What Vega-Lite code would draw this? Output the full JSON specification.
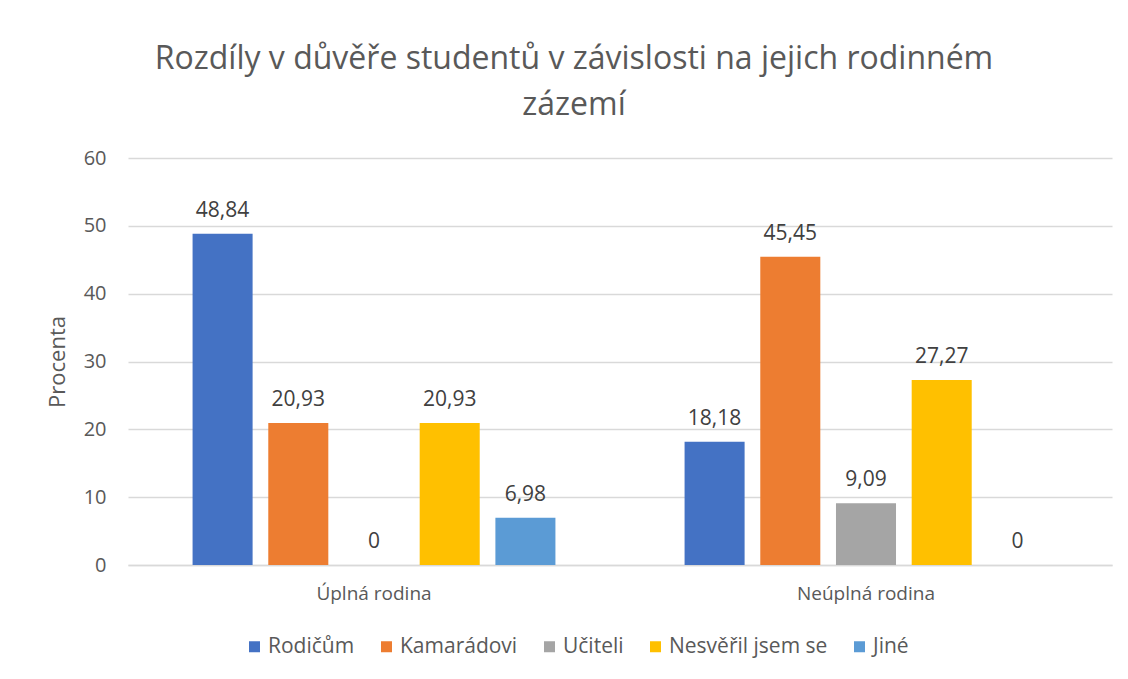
{
  "$schema": "https://vega.github.io/schema/vega-lite/v6.json",
  "width": 984,
  "height": 407,
  "autosize": "none",
  "padding": {"left": 128, "top": 158, "right": 16, "bottom": 114},
  "background": "white",
  "title": {
    "text": ["Rozdíly v důvěře studentů v závislosti na jejich rodinném", "zázemí"],
    "font": "Open Sans",
    "fontSize": 32,
    "fontWeight": "normal",
    "color": "#595959",
    "anchor": "middle",
    "dx": -46,
    "offset": 26,
    "lineHeight": 46
  },
  "data": {
    "values": [
      {"group": "Úplná rodina", "cat": "Rodičům", "value": 48.84},
      {"group": "Úplná rodina", "cat": "Kamarádovi", "value": 20.93},
      {"group": "Úplná rodina", "cat": "Učiteli", "value": 0},
      {"group": "Úplná rodina", "cat": "Nesvěřil jsem se", "value": 20.93},
      {"group": "Úplná rodina", "cat": "Jiné", "value": 6.98},
      {"group": "Neúplná rodina", "cat": "Rodičům", "value": 18.18},
      {"group": "Neúplná rodina", "cat": "Kamarádovi", "value": 45.45},
      {"group": "Neúplná rodina", "cat": "Učiteli", "value": 9.09},
      {"group": "Neúplná rodina", "cat": "Nesvěřil jsem se", "value": 27.27},
      {"group": "Neúplná rodina", "cat": "Jiné", "value": 0}
    ]
  },
  "encoding": {
    "x": {
      "field": "group",
      "type": "nominal",
      "sort": ["Úplná rodina", "Neúplná rodina"],
      "scale": {"paddingInner": 0, "paddingOuter": 0},
      "axis": {
        "title": null,
        "labelAngle": 0,
        "labelFont": "Open Sans",
        "labelFontSize": 19,
        "labelColor": "#595959",
        "labelPadding": 19,
        "ticks": false,
        "domainColor": "#d9d9d9",
        "domainWidth": 1.3
      }
    },
    "xOffset": {
      "field": "cat",
      "type": "nominal",
      "sort": ["Rodičům", "Kamarádovi", "Učiteli", "Nesvěřil jsem se", "Jiné"],
      "scale": {"paddingInner": 0.207, "paddingOuter": 0.853}
    },
    "y": {
      "field": "value",
      "type": "quantitative",
      "scale": {"domain": [0, 60]},
      "axis": {
        "title": "Procenta",
        "titleFont": "Open Sans",
        "titleFontSize": 22,
        "titleFontWeight": "normal",
        "titleColor": "#595959",
        "titlePadding": 14,
        "values": [0, 10, 20, 30, 40, 50, 60],
        "labelFont": "Open Sans",
        "labelFontSize": 20,
        "labelColor": "#595959",
        "labelPadding": 22,
        "ticks": false,
        "domain": false,
        "gridColor": "#d9d9d9",
        "gridWidth": 1.3
      }
    }
  },
  "layer": [
    {
      "mark": {"type": "bar"},
      "encoding": {
        "color": {
          "field": "cat",
          "type": "nominal",
          "sort": ["Rodičům", "Kamarádovi", "Učiteli", "Nesvěřil jsem se", "Jiné"],
          "scale": {
            "domain": ["Rodičům", "Kamarádovi", "Učiteli", "Nesvěřil jsem se", "Jiné"],
            "range": ["#4472C4", "#ED7D31", "#A5A5A5", "#FFC000", "#5B9BD5"]
          },
          "legend": {
            "title": null,
            "orient": "none",
            "direction": "horizontal",
            "legendX": 116,
            "legendY": 478,
            "symbolType": "square",
            "symbolSize": 121,
            "symbolStrokeWidth": 0,
            "labelFont": "Open Sans",
            "labelFontSize": 21,
            "labelColor": "#595959",
            "labelOffset": 3,
            "columnPadding": 21
          }
        }
      }
    },
    {
      "mark": {
        "type": "text",
        "baseline": "alphabetic",
        "dy": -17,
        "font": "Open Sans",
        "fontSize": 21,
        "color": "#404040"
      },
      "encoding": {
        "text": {"field": "value", "type": "quantitative", "format": "~g"}
      }
    }
  ],
  "config": {
    "view": {"stroke": null},
    "locale": {
      "number": {
        "decimal": ",",
        "thousands": " ",
        "grouping": [3],
        "currency": ["", " Kč"]
      }
    }
  }
}
